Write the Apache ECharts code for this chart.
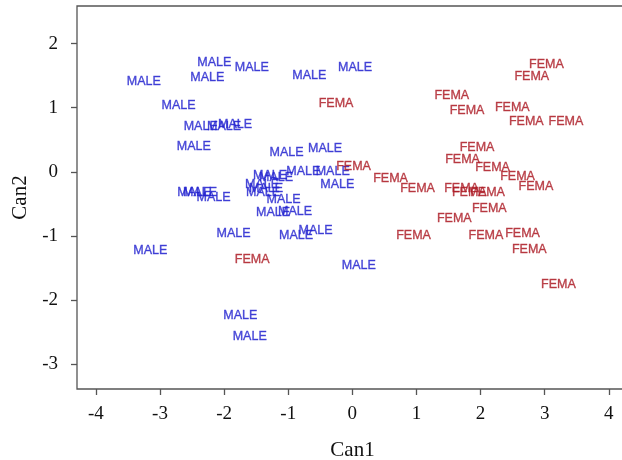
<!DOCTYPE html>
<html>
<head>
<meta charset="utf-8">
<script src="https://cdn.jsdelivr.net/npm/echarts@6/dist/echarts.min.js"></script>
<style>
html,body{margin:0;padding:0;background:#fff;}
#chart{width:622px;height:460px;}
</style>
</head>
<body>
<div id="chart"></div>
<script>
// Canonical scores (label centres)
const maleX = [-2.154, -1.569, -2.262, -3.254, -0.671, 0.042, -2.711, -2.365, -2.002, -1.830,
  -2.474, -1.027, -0.426, -0.766, -0.306, -0.234, -1.284, -1.190, -1.409, -1.346,
  -1.393, -1.073, -2.465, -2.376, -2.165, -1.237, -0.894, -1.853, -0.878, -0.574,
  -3.151, 0.100, -1.747, -1.601];
const maleY = [1.724, 1.635, 1.494, 1.427, 1.515, 1.647, 1.050, 0.725, 0.725, 0.761,
  0.415, 0.317, 0.379, 0.022, 0.022, -0.183, -0.042, -0.081, -0.187, -0.253,
  -0.315, -0.421, -0.304, -0.304, -0.388, -0.627, -0.604, -0.952, -0.978, -0.900,
  -1.212, -1.446, -2.229, -2.551];
const femaX = [-0.254, 3.027, 2.800, 1.552, 1.789, 2.496, 2.714, 3.331, 1.945, 1.719,
  0.019, 2.187, 2.577, 2.863, 0.596, 1.017, 1.704, 1.824, 2.109, 2.136,
  1.590, 0.955, 2.083, 2.655, 2.760, 3.214, -1.562];
const femaY = [1.076, 1.686, 1.502, 1.206, 0.969, 1.016, 0.805, 0.805, 0.398, 0.203,
  0.094, 0.083, -0.062, -0.217, -0.084, -0.245, -0.250, -0.315, -0.315, -0.565,
  -0.713, -0.978, -0.978, -0.952, -1.201, -1.738, -1.349];
const xTicks = [-4, -3, -2, -1, 0, 1, 2, 3, 4];
const yTicks = [-3, -2, -1, 0, 1, 2];
const maleText = 'MALE';
const femaText = 'FEMA';

const zip = (a, b) => a.map((v, i) => [v, b[i]]);

const chart = echarts.init(document.getElementById('chart'), null, {renderer: 'canvas'});
const serif = 'Liberation Serif';
const frame = '#555';

function labelSeries(name, data, text, color) {
  return {
    name: name,
    type: 'scatter',
    data: data,
    symbol: 'circle',
    symbolSize: 0,
    silent: true,
    label: {
      show: true,
      position: 'inside',
      offset: [0, 1],
      formatter: text,
      color: color,
      textBorderColor: color,
      textBorderWidth: 0.35,
      fontFamily: 'Liberation Sans',
      fontSize: 12.5,
      align: 'center',
      verticalAlign: 'middle'
    },
    emphasis: {disabled: true}
  };
}

chart.setOption({
  animation: false,
  backgroundColor: '#fff',
  grid: {
    show: true,
    left: 77, top: 6, width: 551, height: 383,
    outerBoundsMode: 'none',
    containLabel: false,
    borderColor: frame, borderWidth: 1.3,
    backgroundColor: 'transparent'
  },
  xAxis: {
    type: 'value',
    min: -4.295, max: 4.3,
    name: 'Can1',
    nameLocation: 'middle',
    nameGap: 51,
    nameTextStyle: {fontFamily: serif, fontSize: 21, color: '#111'},
    axisLine: {show: false, onZero: false},
    splitLine: {show: false},
    axisTick: {show: true, length: 6, lineStyle: {color: frame, width: 1.3}, customValues: xTicks},
    axisLabel: {fontFamily: serif, fontSize: 19, color: '#111', margin: 16, customValues: xTicks}
  },
  yAxis: {
    type: 'value',
    min: -3.388, max: 2.587,
    name: 'Can2',
    nameLocation: 'middle',
    nameGap: 35,
    nameTextStyle: {fontFamily: serif, fontSize: 21, color: '#111'},
    axisLine: {show: false, onZero: false},
    splitLine: {show: false},
    axisTick: {show: true, length: 6, lineStyle: {color: frame, width: 1.3}, customValues: yTicks},
    axisLabel: {fontFamily: serif, fontSize: 19, color: '#111', margin: 19, customValues: yTicks}
  },
  series: [
    labelSeries('MALE', zip(maleX, maleY), maleText, '#2323d0'),
    labelSeries('FEMA', zip(femaX, femaY), femaText, '#ad1c26')
  ]
});
</script>
</body>
</html>
